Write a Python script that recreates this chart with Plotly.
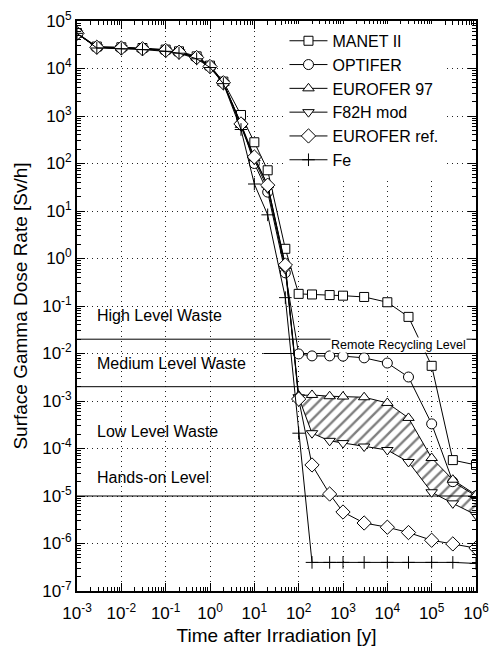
import math
import plotly.graph_objects as go

# ---- data ----
t = [1e-3, 2.8e-3, 1e-2, 3e-2, 0.1, 0.2, 0.5, 1, 2, 5, 10, 20, 50, 100, 200, 500,
     1e3, 3e3, 1e4, 3e4, 1e5, 3e5, 1e6]

manet = [5.6e4, 2.9e4, 2.8e4, 2.7e4, 2.5e4, 2.3e4, 1.8e4, 1.15e4, 5.3e3, 1050, 280, 72, 1.6,
         0.18, 0.175, 0.17, 0.165, 0.155, 0.12, 0.059, 5.5e-3, 5.7e-5, 4.5e-5]
optifer = [5.4e4, 2.8e4, 2.7e4, 2.6e4, 2.4e4, 2.2e4, 1.7e4, 1.1e4, 5.0e3, 700, 100, 25, 0.5,
           9.8e-3, 8.9e-3, 8.9e-3, 8.8e-3, 8.1e-3, 6.3e-3, 3.2e-3, 3.3e-4, 2.0e-5, 1.0e-5]
eurofer97 = [5.5e4, 2.8e4, 2.7e4, 2.6e4, 2.4e4, 2.2e4, 1.7e4, 1.1e4, 5.0e3, 650, 130, 35, 0.7,
             1.3e-3, 1.34e-3, 1.26e-3, 1.24e-3, 1.2e-3, 9.1e-4, 4.4e-4, 6.3e-5, 2.2e-5, 1.05e-5]
f82h = [5.5e4, 2.8e4, 2.7e4, 2.6e4, 2.4e4, 2.2e4, 1.7e4, 1.1e4, 5.0e3, 620, 120, 30, 0.6,
        1.2e-3, 2.1e-4, 1.45e-4, 1.3e-4, 1.1e-4, 9.3e-5, 5.2e-5, 1.2e-5, 7e-6, 4e-6]
eurofer_ref = [5.5e4, 2.8e4, 2.7e4, 2.6e4, 2.4e4, 2.2e4, 1.7e4, 1.1e4, 5.0e3, 680, 137, 35, 0.73,
               1.1e-3, 4.5e-5, 1.1e-5, 4.6e-6, 2.7e-6, 2.2e-6, 1.7e-6, 1.17e-6, 9.8e-7, 8e-7]
fe = [5.5e4, 2.7e4, 2.6e4, 2.5e4, 2.3e4, 2.1e4, 1.6e4, 1.05e4, 4.8e3, 520, 37, 8.3, 0.15,
      2.1e-4, 4e-7, 4e-7, 4e-7, 4e-7, 4e-7, 4e-7, 4e-7, 4e-7, 3.8e-7]

series_names = ["MANET II", "OPTIFER", "EUROFER 97", "F82H mod", "EUROFER ref.", "Fe"]
series_values = [manet, optifer, eurofer97, f82h, eurofer_ref, fe]
series_symbols = ["square", "circle", "triangle-up", "triangle-down", "diamond", "cross-thin"]
series_sizes = [9, 10, 10, 10, 11, 9]

# band between EUROFER 97 and F82H mod (hatched), from t = 100 y on
band_start = 13

# waste-class limits [Sv/h]
level_values = [2e-2, 2e-3, 1e-5]
remote_level = 1e-2
remote_start = 16

region_labels = ["High Level Waste", "Medium Level Waste", "Low Level Waste", "Hands-on Level"]
region_label_y = [10**-1.21, 10**-2.2, 10**-3.65, 10**-4.6]
region_label_x = 10**-2.6
remote_label_pos = (10**2.71, 10**-1.82)

x_tick_exp = list(range(-3, 7))
y_tick_exp = list(range(-7, 6))

FONT = "Liberation Sans, Arial, Helvetica, sans-serif"

fig = go.Figure()

# hatched band
bx = t[band_start:] + t[band_start:][::-1]
by = eurofer97[band_start:] + f82h[band_start:][::-1]
fig.add_trace(go.Scatter(
    x=bx, y=by, mode="lines", fill="toself", line=dict(width=0, color="black"),
    fillcolor="white",
    fillpattern=dict(shape="/", fgcolor="black", bgcolor="white", size=8, solidity=0.3),
    showlegend=False, hoverinfo="skip"))

# level lines
for lv in level_values:
    fig.add_trace(go.Scatter(x=[t[0], t[-1]], y=[lv, lv], mode="lines",
                             line=dict(color="black", width=1), showlegend=False,
                             hoverinfo="skip"))
fig.add_trace(go.Scatter(x=[remote_start, t[-1]], y=[remote_level, remote_level], mode="lines",
                         line=dict(color="black", width=1), showlegend=False, hoverinfo="skip"))

for name, vals, sym, sz in zip(series_names, series_values, series_symbols, series_sizes):
    if sym == "cross-thin":
        marker = dict(symbol=sym, size=sz, color="black", line=dict(color="black", width=1))
    else:
        marker = dict(symbol=sym, size=sz, color="white", line=dict(color="black", width=1))
    fig.add_trace(go.Scatter(x=t, y=vals, name=name, mode="lines+markers",
                             line=dict(color="black", width=1), marker=marker))

# region labels (annotation positions on log axes are given as log10)
for lab, yv in zip(region_labels, region_label_y):
    fig.add_annotation(x=math.log10(region_label_x), y=math.log10(yv), xref="x", yref="y",
                       text=lab, showarrow=False, xanchor="left", yanchor="middle",
                       font=dict(family=FONT, size=16, color="black"))
fig.add_annotation(x=math.log10(remote_label_pos[0]), y=math.log10(remote_label_pos[1]),
                   xref="x", yref="y", text="Remote Recycling Level",
                   showarrow=False, xanchor="left", yanchor="middle", bgcolor="white",
                   font=dict(family=FONT, size=12.5, color="black"), borderpad=0)

def minor_vals(lo, hi):
    out = []
    for e in range(lo, hi):
        for m in range(2, 10):
            out.append(m * 10**e)
    return out

axis_common = dict(
    type="log", showline=True, linecolor="black", linewidth=1.8, mirror="allticks",
    ticks="inside", ticklen=8, tickwidth=1.2, tickcolor="black",
    showgrid=True, gridcolor="#222", gridwidth=1, griddash="1px,4px",
    zeroline=False, tickfont=dict(family=FONT, size=17, color="black"),
    tickmode="array",
)

fig.update_xaxes(
    **axis_common, range=[-3, 6],
    tickvals=[10**e for e in x_tick_exp],
    ticktext=[f"10<sup>{e}</sup>" for e in x_tick_exp],
    ticklabelstandoff=6,
    minor=dict(tickvals=minor_vals(-3, 6), ticks="inside", ticklen=4, tickcolor="black",
               showgrid=False),
    title=dict(text="Time after Irradiation [y]", font=dict(family=FONT, size=19, color="black"),
               standoff=6),
)
fig.update_yaxes(
    **axis_common, range=[-7, 5],
    tickvals=[10**e for e in y_tick_exp],
    ticktext=[f"10<sup>{e}</sup>" for e in y_tick_exp],
    minor=dict(tickvals=minor_vals(-7, 5), ticks="inside", ticklen=4, tickcolor="black",
               showgrid=False),
    title=dict(text="Surface Gamma Dose Rate [Sv/h]",
               font=dict(family=FONT, size=19, color="black"), standoff=10),
)

fig.update_layout(
    width=491, height=655,
    margin=dict(l=77, r=15, t=21, b=64, autoexpand=False),
    paper_bgcolor="white", plot_bgcolor="white",
    font=dict(family=FONT, color="black"),
    legend=dict(x=0.52, y=0.995, xanchor="left", yanchor="top", bgcolor="white",
                borderwidth=0, font=dict(family=FONT, size=16, color="black"),
                itemwidth=38, tracegroupgap=0),
    showlegend=True,
)

fig.write_html("out.html")
